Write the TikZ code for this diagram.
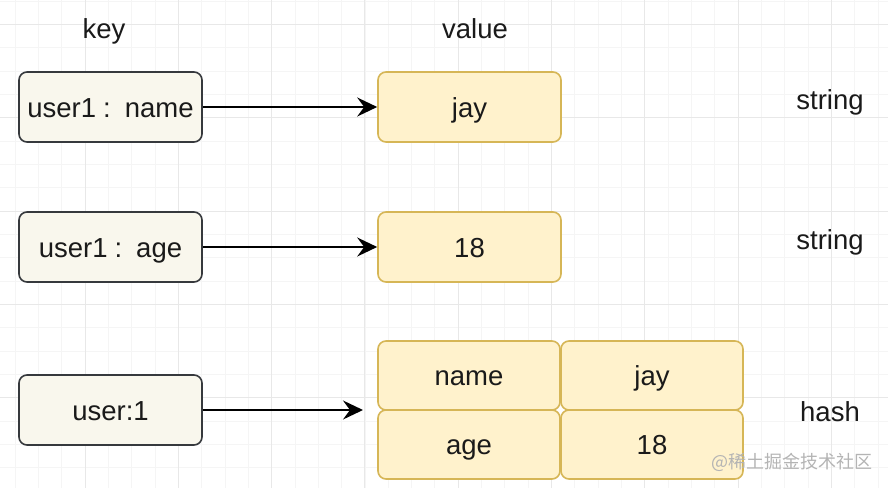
\documentclass[tikz,border=0pt]{standalone}
\usepackage{fontspec}
\setmainfont{Liberation Sans}
\newfontfamily\cjk{Noto Sans CJK SC}
\usetikzlibrary{arrows.meta}
\definecolor{keyfill}{HTML}{F9F7ED}
\definecolor{keydraw}{HTML}{36393D}
\definecolor{valfill}{HTML}{FFF2CC}
\definecolor{valdraw}{HTML}{D6B656}
\definecolor{gridmajor}{HTML}{E8E8E8}
\definecolor{gridminor}{HTML}{F5F5F5}
\definecolor{txt}{HTML}{1A1A1A}
\definecolor{wm}{HTML}{B4B4B4}
\newcommand{\wcolon}{\kern7pt:\kern14pt}
\tikzset{
  box/.style={rectangle, rounded corners=8pt, line width=1.6pt, minimum width=183pt, minimum height=70pt, inner sep=0pt, text=txt, font=\fontsize{27.5}{33}\selectfont, text height=25pt, text depth=5pt},
  keybox/.style={box, fill=keyfill, draw=keydraw},
  valbox/.style={box, fill=valfill, draw=valdraw},
  cell/.style={valbox, minimum width=182pt, minimum height=69pt},
  label/.style={text=txt, font=\fontsize{27.5}{33}\selectfont, inner sep=0pt, text height=25pt, text depth=5pt},
  link/.style={line width=2pt, -{Stealth[length=20pt, width=19pt, inset=7pt]}}
}
\begin{document}
\begin{tikzpicture}[x=1pt, y=-1pt]
\useasboundingbox (0,0) rectangle (888,488);
\fill[white] (0,0) rectangle (888,488);
% grid
\foreach \i in {-4,...,40} {
  \draw[gridminor, line width=0.8pt] ({85+23.325*\i},0) -- ({85+23.325*\i},488);
}
\foreach \i in {-2,...,22} {
  \draw[gridminor, line width=0.8pt] (0,{24.4+23.325*\i}) -- (888,{24.4+23.325*\i});
}
\foreach \i in {-1,...,9} {
  \draw[gridmajor, line width=1pt] ({85+93.3*\i},0) -- ({85+93.3*\i},488);
}
\foreach \i in {0,...,5} {
  \draw[gridmajor, line width=1pt] (0,{24.4+93.3*\i}) -- (888,{24.4+93.3*\i});
}
% headers
\node[label] (hkey) at (104,28) {key};
\node[label] (hval) at (475,28) {value};
% key boxes
\node[keybox] (k1) at (110.5,107) {user1\wcolon name};
\node[keybox] (k2) at (110.5,247) {user1\wcolon age};
\node[keybox] (k3) at (110.5,410) {user:1};
% value boxes
\node[valbox] (v1) at (469.5,107) {jay};
\node[valbox] (v2) at (469.5,247) {18};
\node[cell] (c11) at (469,375.5) {name};
\node[cell] (c12) at (652,375.5) {jay};
\node[cell] (c21) at (469,444.5) {age};
\node[cell] (c22) at (652,444.5) {18};
% types
\node[label] (t1) at (830,99) {string};
\node[label] (t2) at (830,239) {string};
\node[label] (t3) at (830,411) {hash};
% arrows
\coordinate (e3) at (363,410);
\draw[link] (k1.east) -- (v1.west);
\draw[link] (k2.east) -- (v2.west);
\draw[link] (k3.east) -- (e3);
% watermark
\node[text=wm, font=\cjk\fontsize{18}{20}\selectfont, inner sep=0pt] (wmk) at (792,462) {@稀土掘金技术社区};
\end{tikzpicture}
\end{document}
